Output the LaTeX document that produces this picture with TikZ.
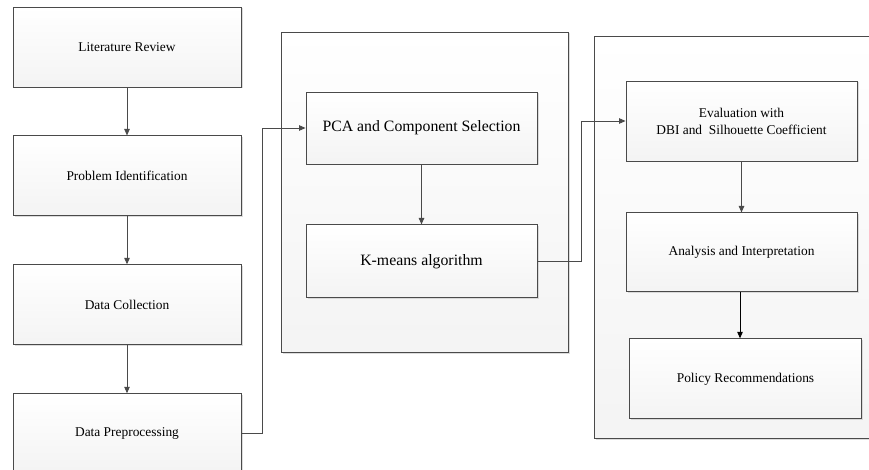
\documentclass[tikz,border=0pt]{standalone}
\usepackage{fontspec}
\setmainfont{Liberation Serif}
\usetikzlibrary{positioning,arrows.meta,shadows}

\definecolor{edgegray}{HTML}{4A4A4A}
\newcommand{\boxfont}{\fontsize{13.4}{17}\selectfont}
\newcommand{\bigboxfont}{\fontsize{15.8}{19}\selectfont}

\tikzset{
  procbox/.style={draw=edgegray, line width=0.9pt, top color=white, bottom color=gray!9,
    minimum width=228pt, minimum height=80pt, align=center, font=\boxfont,
    drop shadow={shadow xshift=1.5pt, shadow yshift=-1.5pt, fill=gray!45, opacity=0.6}},
  groupbox/.style={draw=edgegray, line width=0.9pt, top color=white, bottom color=gray!9,
    drop shadow={shadow xshift=1.5pt, shadow yshift=-1.5pt, fill=gray!45, opacity=0.6}},
  flow/.style={draw=edgegray, line width=0.9pt, -{Triangle[length=6.5pt,width=5.5pt]}}
}

\begin{document}
\begin{tikzpicture}[x=1pt, y=-1pt, node distance=48pt]
  \clip (0,0) rectangle (869,470);
  \fill[white] (0,0) rectangle (869,470);

  % Les deux cadres de regroupement
  \path[groupbox] (281,32) rectangle (568,352);
  \path[groupbox] (594,36) rectangle (885,438);

  % Colonne de gauche
  \node[procbox] (litrev) at (127,47) {Literature Review};
  \node[procbox, below=of litrev] (probid) {Problem Identification};
  \node[procbox, below=of probid] (datacol) {Data Collection};
  \node[procbox, below=of datacol] (prep) {Data Preprocessing};

  % Cadre du milieu
  \node[procbox, minimum width=231pt, minimum height=72pt, font=\bigboxfont] (pca) at (421.5,128) {PCA and Component Selection};
  \node[procbox, minimum width=231pt, minimum height=73pt, font=\bigboxfont, below=60pt of pca] (kmeans) {K-means algorithm};

  % Cadre de droite
  \node[procbox, minimum width=231pt] (eval) at (741.5,121) {Evaluation with\\DBI and\ \ Silhouette Coefficient};
  \node[procbox, minimum width=231pt, minimum height=79pt, below=51pt of eval] (analysis) {Analysis and Interpretation};
  \node[procbox, minimum width=232pt, below=46pt of analysis, xshift=4pt] (policy) {Policy Recommendations};

  % Points de passage des connecteurs
  \coordinate (bendA) at (262,128);
  \coordinate (bendB) at (581,121);

  % Fleches
  \draw[flow] (litrev) -- (probid);
  \draw[flow] (probid) -- (datacol);
  \draw[flow] (datacol) -- (prep);
  \draw[flow] (prep.east) -| (bendA) -- (pca.west);
  \draw[flow] (pca) -- (kmeans);
  \draw[flow] (kmeans.east) -| (bendB) -- (eval.west);
  \draw[flow] (eval) -- (analysis);
  \draw[flow, draw=black] (analysis.south -| 740,0) -- (policy.north -| 740,0);
\end{tikzpicture}
\end{document}
